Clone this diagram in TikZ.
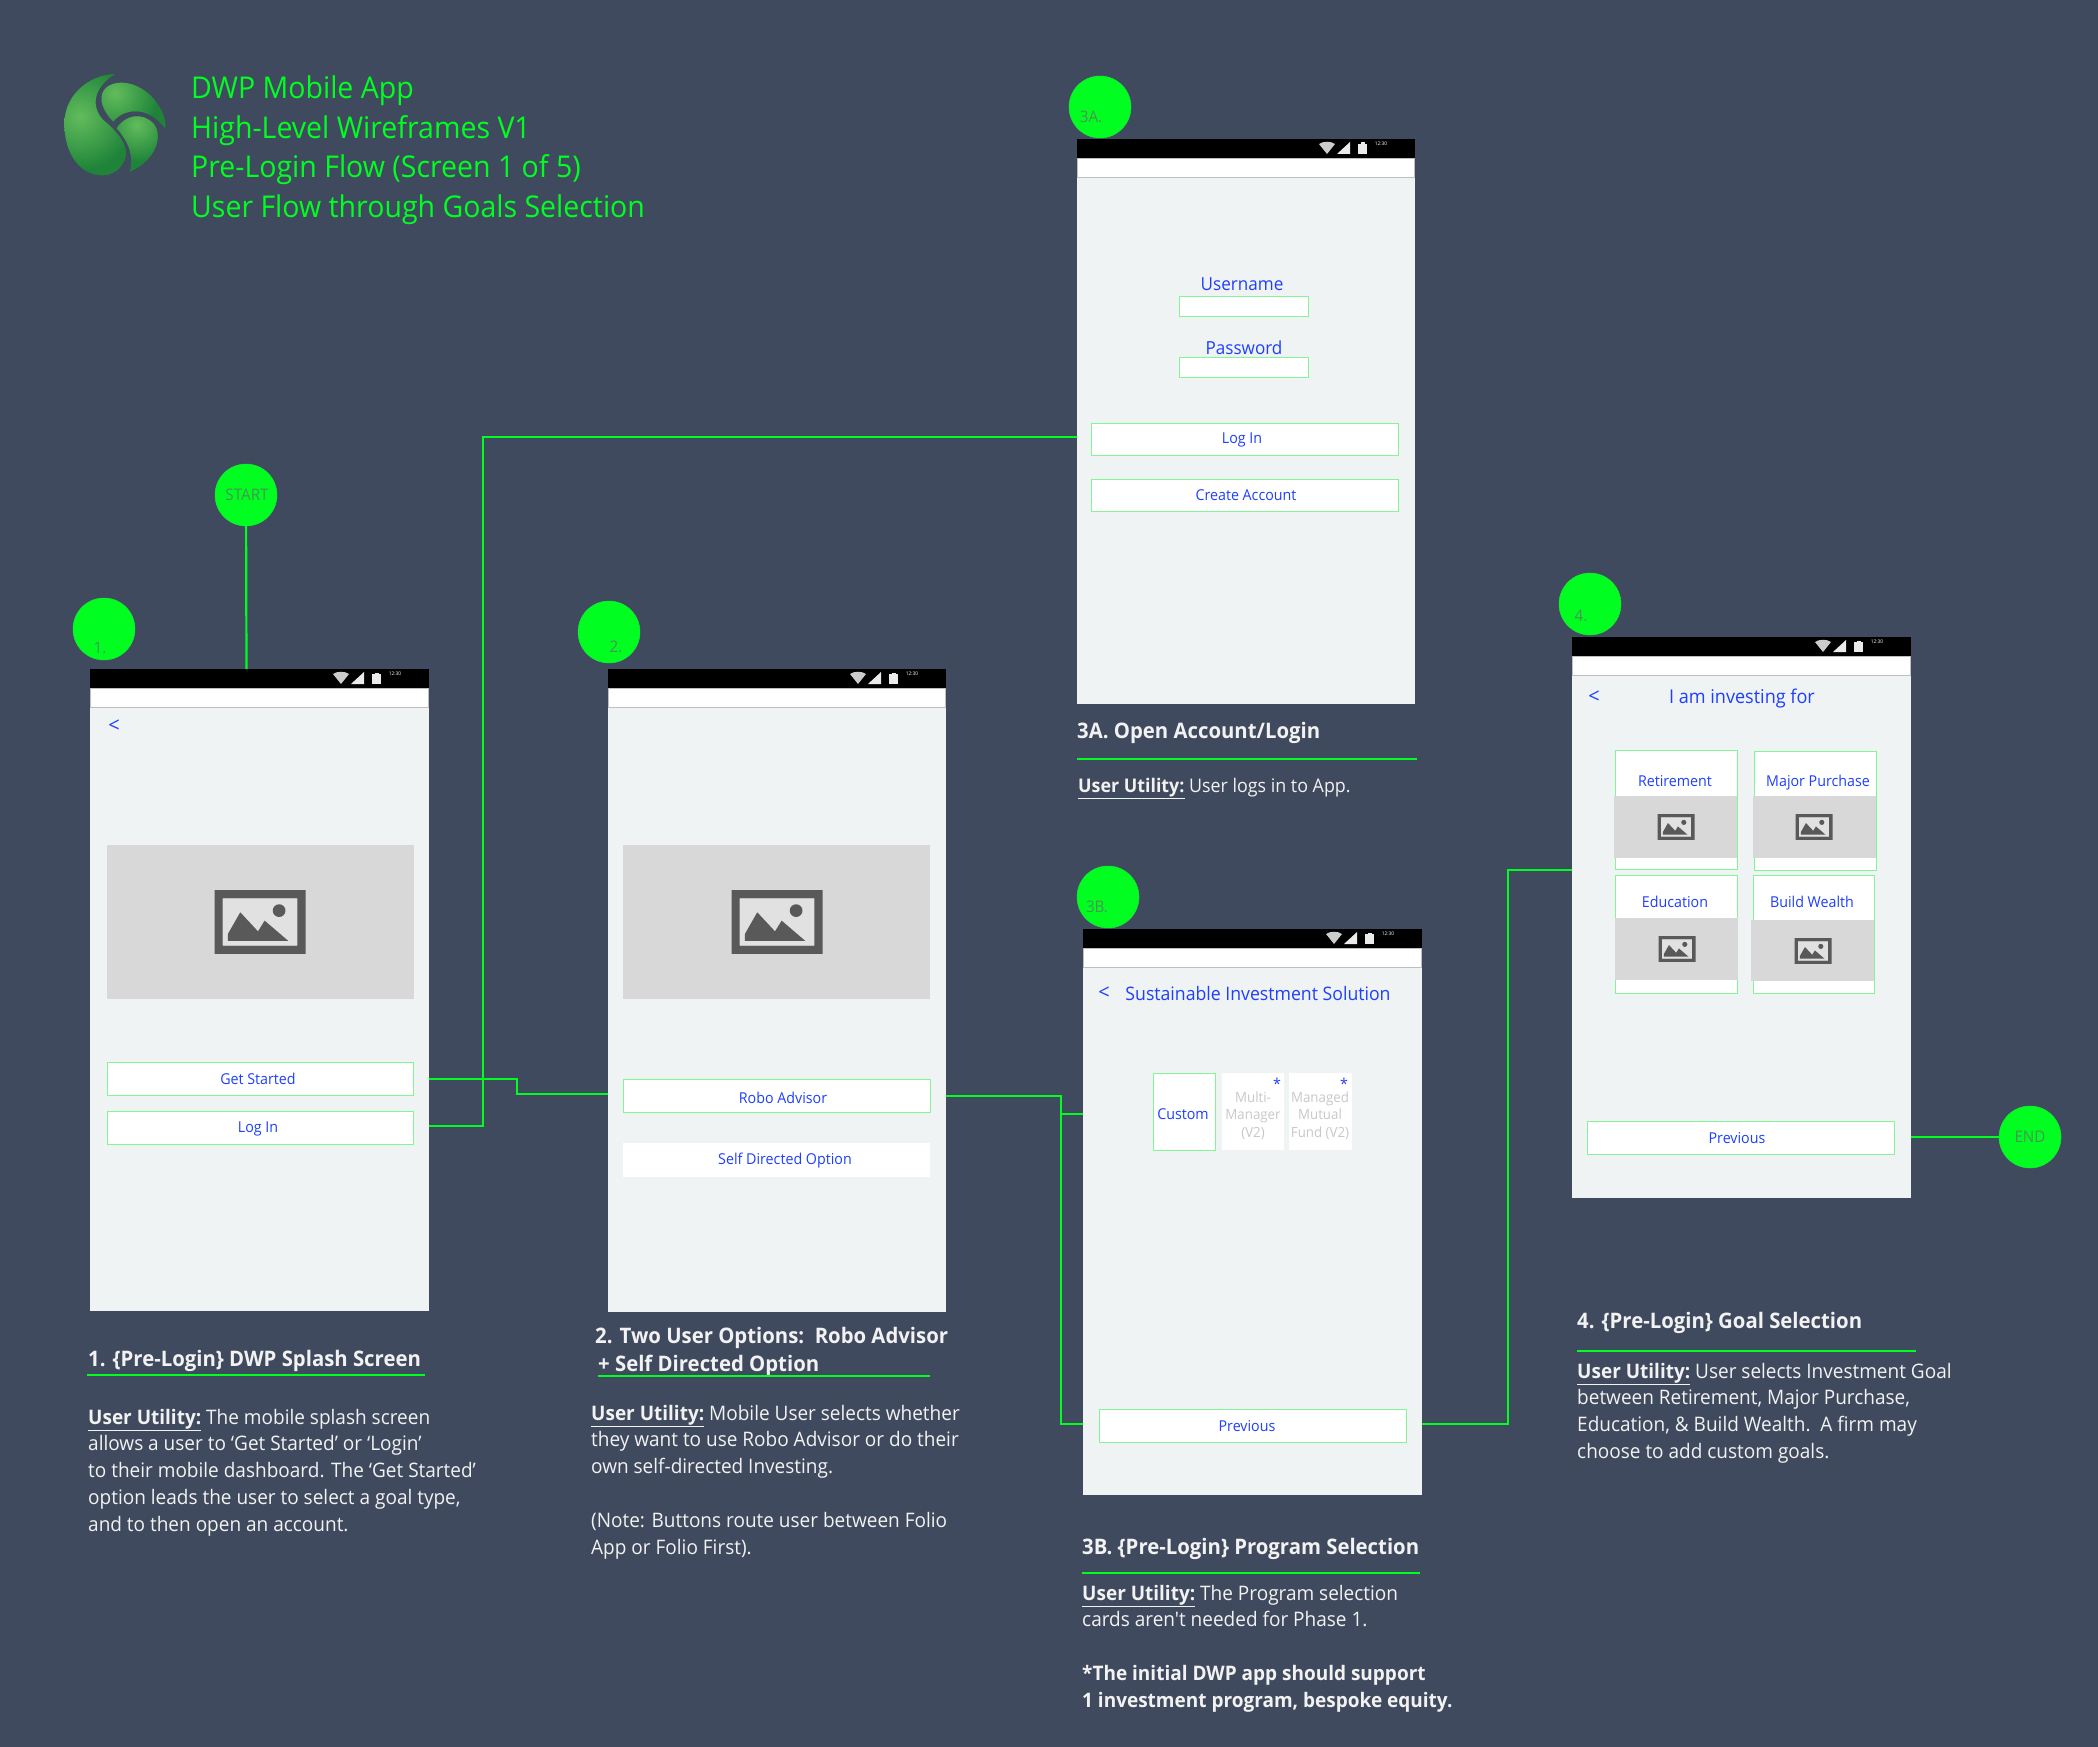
\documentclass[tikz,border=0pt]{standalone}
\usepackage{fontspec}
\setmainfont[FakeStretch=0.95,Ligatures=TeXOff]{Open Sans}
\definecolor{bgc}{HTML}{404A5E}
\definecolor{grn}{HTML}{00FF21}
\definecolor{scr}{HTML}{EFF3F4}
\definecolor{btnb}{HTML}{84F594}
\definecolor{blu}{HTML}{1F3FFF}
\definecolor{imgg}{HTML}{D8D8D8}
\definecolor{icog}{HTML}{595959}
\definecolor{circt}{HTML}{4A9455}
\definecolor{bodyt}{HTML}{F2F2F2}
\definecolor{cardg}{HTML}{C8C8C8}
\tikzset{
  boxbase/.style={rectangle,inner sep=0pt,outer sep=0pt},
  screenbody/.style={boxbase,fill=scr},
  btn/.style={boxbase,fill=white,draw=btnb,line width=1pt},
  plainbtn/.style={boxbase,fill=white},
  imgbox/.style={boxbase,fill=imgg},
  flow/.style={draw=grn,line width=2.2pt},
  headrule/.style={draw=grn,line width=2.2pt},
  badge/.style={circle,fill=grn,draw=grn!80!gray,line width=.5pt,inner sep=0pt,minimum size=62pt,outer sep=0pt},
  badgetxt/.style={text=circt,font=\fontsize{16}{18}\selectfont,inner sep=0pt},
  title/.style={anchor=north west,inner sep=0pt,align=left,text=grn,font=\fontsize{30}{39.7}\selectfont},
  headtxt/.style={anchor=west,inner sep=0pt,align=left,text=bodyt,font=\fontsize{21.4}{27}\selectfont\bfseries},
  bodytxt/.style={anchor=north west,inner sep=0pt,align=left,text=bodyt,font=\fontsize{20}{26.8}\selectfont},
  blue16/.style={inner sep=0pt,text=blu,font=\fontsize{18}{22}\selectfont},
  blue15/.style={inner sep=0pt,text=blu,font=\fontsize{15}{18}\selectfont},
  chev/.style={inner sep=0pt,text=blu,font=\fontsize{21}{22}\selectfont},
}
% name, x1,y1,x2,y2, text
\newcommand\rn[7][]{%
  \pgfmathsetmacro\rnw{#5-#3}\pgfmathsetmacro\rnh{#6-#4}%
  \pgfmathsetmacro\rnx{(#5+#3)/2}\pgfmathsetmacro\rny{(#6+#4)/2}%
  \node[#1,minimum width=\rnw pt,minimum height=\rnh pt] (#2) at (\rnx,\rny) {#7};}
% picture placeholder icon: cx,cy,width
\newcommand\imgicon[3]{%
  \begin{scope}[shift={(#1,#2)},scale=#3/100]
    \fill[icog,even odd rule] (-50,-35) rectangle (50,35) (-41,-26) rectangle (41,26);
    \fill[white,opacity=.25] (-41,-26) rectangle (41,26);
    \fill[icog] (-35.3,20.6) -- (-35.3,13.2) -- (-21.7,-10.7) -- (-2.2,10.3) -- (5.1,-1.5) -- (30.9,20.6) -- cycle;
    \fill[icog] (21,-12.5) circle[radius=7];
  \end{scope}}
% phone screen: name,x1,y1,x2,y2
\newcommand\phone[5]{%
  \rn[screenbody]{#1}{#2}{#3}{#4}{#5}{}
  \fill[white,draw=black!25,line width=.8pt] (#2+.5,#3+19) rectangle (#4-.5,#3+38);
  \fill[black] (#2,#3) rectangle (#4,#3+19);
  \begin{scope}[shift={(#4,#3)}]
    \fill[black!20] (-96,5) .. controls (-92,2) and (-84,2) .. (-80,5) -- (-88,15) -- cycle;
    \fill[black!8] (-78,15) -- (-65,15) -- (-65,3) -- cycle;
    \fill[black!8] (-57,5) rectangle (-48,15);
    \fill[black!8] (-54.5,3.5) rectangle (-50.5,5);
    \node[inner sep=0pt,text=white,font=\fontsize{5}{5}\selectfont] (#1clock) at (-34,5) {12:30};
  \end{scope}}
\newcommand\lobeA{(195,42) .. controls (120,45) and (45,100) .. (43,190) .. controls (43,280) and (90,348) .. (160,346) .. controls (200,345) and (230,310) .. (228,275) .. controls (225,240) and (190,205) .. (160,180) .. controls (125,145) and (125,85) .. (195,42) -- cycle}
\newcommand\lobeB{(215,68) .. controls (175,68) and (150,90) .. (155,125) .. controls (160,150) and (175,170) .. (190,185) .. controls (215,150) and (290,130) .. (345,205) .. controls (355,165) and (300,70) .. (215,68) -- cycle}
\newcommand\lobeC{(200,205) .. controls (225,165) and (275,155) .. (310,190) .. controls (340,225) and (320,300) .. (240,335) .. controls (250,290) and (240,250) .. (200,205) -- cycle}
\begin{document}
\begin{tikzpicture}[x=1pt,y=-1pt]
\useasboundingbox (0,0) rectangle (2098,1747);
\fill[bgc] (0,0) rectangle (2098,1747);

% logo
\begin{scope}[shift={(50,60)},scale=1/3]
  \definecolor{lgd}{HTML}{1F8439}\definecolor{lgl}{HTML}{62BC5C}
  \begin{scope}
    \clip \lobeA;
    \fill[lgd] (0,0) rectangle (400,400);
    \shade[inner color=lgl,outer color=lgd] (90,170) circle[radius=160];
  \end{scope}
  \begin{scope}
    \clip \lobeB;
    \fill[lgd] (0,0) rectangle (400,400);
    \shade[inner color=lgl,outer color=lgd] (195,100) circle[radius=130];
  \end{scope}
  \begin{scope}
    \clip \lobeC;
    \fill[lgd] (0,0) rectangle (400,400);
    \shade[inner color=lgl,outer color=lgd] (260,195) circle[radius=110];
  \end{scope}
\end{scope}

\begin{scope}[shift={(0,1)}]
\node[title] (ttl) at (191,74.5) {DWP Mobile App\\High-Level Wireframes V1\\Pre-Login Flow (Screen 1 of 5)\\User Flow through Goals Selection};

% screens
\phone{sa}{90}{668}{429}{1310}
\phone{sb}{608}{668}{946}{1311}
\phone{sc}{1077}{138}{1415}{703}
\phone{sd}{1083}{928}{1422}{1494}
\phone{se}{1572}{636}{1911}{1197}

% connector way-points
\coordinate (j1a) at (429,1078);
\coordinate (j1b) at (517,1078);
\coordinate (j1c) at (517,1093);
\coordinate (j1d) at (608,1093);
\coordinate (j2a) at (429,1125);
\coordinate (j2b) at (483,1125);
\coordinate (j2c) at (483,436);
\coordinate (j2d) at (1077,436);
\coordinate (j3a) at (946,1095);
\coordinate (j3b) at (1061,1095);
\coordinate (j3c) at (1061,1423);
\coordinate (j3d) at (1083,1423);
\coordinate (j3e) at (1061,1113);
\coordinate (j3f) at (1083,1113);
\coordinate (j4a) at (1422,1423);
\coordinate (j4b) at (1508,1423);
\coordinate (j4c) at (1508,869);
\coordinate (j4d) at (1572,869);
\coordinate (j5a) at (1911,1136);
\coordinate (j6a) at (246.5,668);

\node[badge] (cstart) at (246,494) {};
\node[badge] (cend) at (2030,1136) {};
\draw[flow] (cstart) -- (j6a);
\draw[flow] (j1a) -- (j1b) -- (j1c) -- (j1d);
\draw[flow] (j2a) -- (j2b) -- (j2c) -- (j2d);
\draw[flow] (j3a) -- (j3b) -- (j3c) -- (j3d);
\draw[flow] (j3e) -- (j3f);
\draw[flow] (j4a) -- (j4b) -- (j4c) -- (j4d);
\draw[flow] (j5a) -- (cend);

% badges
\node[badge] (c1) at (104,628) {};
\node[badge] (c2) at (609,631) {};
\node[badge] (c3a) at (1100,106) {};
\node[badge] (c3b) at (1108,896) {};
\node[badge] (c4) at (1590,603) {};
\node[badgetxt] (t1) at (100,647) {1.};
\node[badgetxt] (t2) at (616,646) {2.};
\node[badgetxt] (t3a) at (1091,116) {3A.};
\node[badgetxt] (t3b) at (1097,906) {3B.};
\node[badgetxt] (t4) at (1581,615) {4.};
\node[badgetxt] (tstart) at (247,494) {START};
\node[badgetxt] (tend) at (2030,1136) {END};

% screen 1
\node[chev] (b1) at (114,725) {<};
\rn[imgbox]{i1}{107}{844}{414}{998}{}
\imgicon{260}{921}{91}
\rn[btn]{b1a}{107}{1061}{413}{1094}{}
\rn[btn]{b1b}{107}{1110}{413}{1143}{}
\node[blue15] (b1at) at (258,1078) {Get Started};
\node[blue15] (b1bt) at (258,1128) {Log In};

% screen 2
\rn[imgbox]{i2}{623}{844}{930}{998}{}
\imgicon{777}{921}{91}
\rn[btn]{b2a}{623}{1078}{930}{1111}{}
\rn[plainbtn]{b2b}{623}{1142}{930}{1176}{}
\node[blue15] (b2at) at (783,1097) {Robo Advisor};
\node[blue15] (b2bt) at (785,1159.5) {Self Directed Option};

% screen 3A
\node[blue16] (u3) at (1242,283) {Username};
\rn[boxbase,fill=white,draw=btnb,line width=.8pt]{f3a}{1179}{295}{1308}{315}{}
\node[blue16] (p3) at (1244,347) {Password};
\rn[boxbase,fill=white,draw=btnb,line width=.8pt]{f3b}{1179}{356}{1308}{376}{}
\rn[btn]{b3a}{1091}{422}{1398}{454}{}
\rn[btn]{b3b}{1091}{478}{1398}{510}{}
\node[blue15] (b3at) at (1242,438.5) {Log In};
\node[blue15] (b3bt) at (1246,494.5) {Create Account};

% screen 3B
\node[chev] (b3) at (1104,992) {<};
\node[blue16,font=\fontsize{18.6}{22}\selectfont] (h3) at (1258,993) {Sustainable Investment Solution};
\rn[boxbase,fill=white,draw=btnb,line width=1pt]{k1}{1153}{1072}{1215}{1149}{}
\node[blue15] (k1t) at (1183,1113) {Custom};
\rn[boxbase,fill=white]{k2}{1222}{1072}{1284}{1149}{}
\rn[boxbase,fill=white]{k3}{1289}{1072}{1352}{1149}{}
\node[inner sep=0pt,text=cardg,align=center,font=\fontsize{14}{17.5}\selectfont] (k2t) at (1253,1114.5) {Multi-\\Manager\\(V2)};
\node[inner sep=0pt,text=cardg,align=center,font=\fontsize{14}{17.5}\selectfont] (k3t) at (1320,1114.5) {Managed\\Mutual\\Fund (V2)};
\node[blue15] (k2s) at (1277,1083) {*};
\node[blue15] (k3s) at (1344,1083) {*};
\rn[btn]{b3c}{1099}{1408}{1406}{1441}{}
\node[blue15] (b3ct) at (1247,1425) {Previous};

% screen 4
\node[chev] (b4) at (1594,696) {<};
\node[blue16,font=\fontsize{19}{22}\selectfont] (h4) at (1742,697.5) {I am investing for};
\rn[boxbase,fill=white,draw=btnb,line width=1pt]{q1}{1615}{749}{1737}{868}{}
\rn[boxbase,fill=white,draw=btnb,line width=1pt]{q2}{1754}{750}{1876}{869}{}
\rn[boxbase,fill=white,draw=btnb,line width=1pt]{q3}{1615}{874}{1737}{992}{}
\rn[boxbase,fill=white,draw=btnb,line width=1pt]{q4}{1753}{874}{1874}{992}{}
\rn[imgbox]{r1}{1614}{795}{1737}{857}{}
\rn[imgbox]{r2}{1753}{795}{1876}{857}{}
\rn[imgbox]{r3}{1615}{917}{1738}{979}{}
\rn[imgbox]{r4}{1751}{919}{1874}{980}{}
\imgicon{1676}{826}{37}
\imgicon{1814}{826}{37}
\imgicon{1677}{948}{37}
\imgicon{1813}{950}{37}
\node[blue15] (q1t) at (1675,780.5) {Retirement};
\node[blue15] (q2t) at (1818,781.5) {Major Purchase};
\node[blue15] (q3t) at (1675,901) {Education};
\node[blue15] (q4t) at (1812,901) {Build Wealth};
\rn[btn]{b4c}{1587}{1120}{1894}{1153}{}
\node[blue15] (b4ct) at (1737,1137) {Previous};

% captions
\node[headtxt] (h1) at (88,1360) {1. \{Pre-Login\} DWP Splash Screen};
\draw[headrule] (87,1374) -- (425,1374);
\node[bodytxt] (d1) at (88,1407.7) {\underline{\textbf{User Utility:}} The mobile splash screen\\allows a user to ‘Get Started’ or ‘Login’\\to their mobile dashboard. The ‘Get Started’\\option leads the user to select a goal type,\\and to then open an account.};

\node[headtxt] (h2a) at (595,1337) {2. Two User Options:\ \ Robo Advisor};
\node[headtxt] (h2b) at (598,1365) {+ Self Directed Option};
\draw[headrule] (598,1375) -- (930,1375);
\node[bodytxt] (d2) at (591,1403.7) {\underline{\textbf{User Utility:}} Mobile User selects whether\\they want to use Robo Advisor or do their\\own self-directed Investing.\\[26.8pt](Note: Buttons route user between Folio\\App or Folio First).};

\node[headtxt] (h3a) at (1077,732) {3A. Open Account/Login};
\draw[headrule] (1077,758) -- (1417,758);
\node[bodytxt,font=\fontsize{18.8}{26.8}\selectfont] (d3a) at (1078,776.7) {\underline{\textbf{User Utility:}} User logs in to App.};

\node[headtxt] (h3b) at (1082,1548) {3B. \{Pre-Login\} Program Selection};
\draw[headrule] (1082,1572) -- (1420,1572);
\node[bodytxt] (d3b) at (1082,1583.7) {\underline{\textbf{User Utility:}} The Program selection\\cards aren't needed for Phase 1.\\[26.8pt]\textbf{*The initial DWP app should support}\\\textbf{1 investment program, bespoke equity.}};

\node[headtxt] (h4c) at (1577,1322) {4. \{Pre-Login\} Goal Selection};
\draw[headrule] (1577,1350) -- (1916,1350);
\node[bodytxt] (d4) at (1577,1361.7) {\underline{\textbf{User Utility:}} User selects Investment Goal\\between Retirement, Major Purchase,\\Education, \& Build Wealth.\ \ A firm may\\choose to add custom goals.};
\end{scope}
\end{tikzpicture}
\end{document}
